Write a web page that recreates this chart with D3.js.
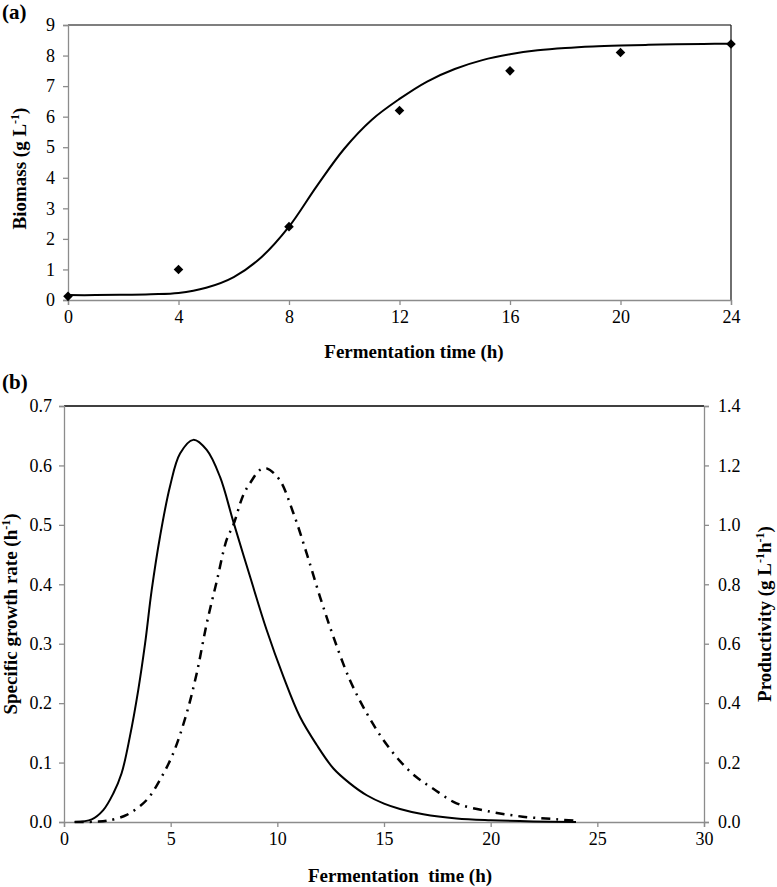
<!DOCTYPE html>
<html>
<head>
<meta charset="utf-8">
<script src="https://cdn.jsdelivr.net/npm/d3@7"></script>
<style>
  body { margin: 0; background: #fff; }
  svg { display: block; }
</style>
</head>
<body>
<svg id="chart" width="777" height="887" font-family="Liberation Serif"></svg>
<script>
// ---------- Panel (a): biomass ----------
const obsTime = [0, 4, 8, 12, 16, 20, 24];
const obsBiomass = [0.12, 1.0, 2.4, 6.2, 7.5, 8.1, 8.38];
const fitTime = [0, 1, 2, 3, 4, 5, 6, 7, 8, 9, 10, 11, 12, 13, 14, 15, 16, 17, 18, 19, 20, 21, 22, 23, 24];
const fitBiomass = [0.16, 0.16, 0.17, 0.19, 0.23, 0.4, 0.75, 1.4, 2.4, 3.72, 4.95, 5.9, 6.58, 7.15, 7.56, 7.85, 8.04, 8.17, 8.25, 8.3, 8.33, 8.35, 8.37, 8.38, 8.39];
const xTicksA = [0, 4, 8, 12, 16, 20, 24];
const yTicksA = [0, 1, 2, 3, 4, 5, 6, 7, 8, 9];

// ---------- Panel (b): specific growth rate & productivity ----------
const muTime = [0.5, 1.3, 1.84, 2.31, 2.7, 3.09, 3.48, 3.8, 4.11, 4.5, 4.97, 5.44, 6.06, 6.69, 7.31, 7.94, 8.72, 9.5, 10.28, 11.06, 11.84, 12.63, 13.4, 14.19, 15.0, 15.75, 16.84, 18.4, 20, 22, 24];
const muValue = [0, 0.0045, 0.02, 0.048, 0.082, 0.144, 0.222, 0.3, 0.39, 0.48, 0.565, 0.62, 0.643, 0.626, 0.581, 0.505, 0.413, 0.323, 0.245, 0.177, 0.13, 0.09, 0.065, 0.045, 0.031, 0.022, 0.013, 0.006, 0.003, 0.001, 0];
const prodTime = [0.5, 1.5, 2.0, 2.94, 3.875, 4.5, 5.125, 5.75, 6.22, 6.69, 7.16, 7.625, 7.94, 8.4, 8.72, 9.19, 9.5, 10.1, 10.75, 11.375, 12.0, 12.625, 13.4, 14.19, 14.97, 15.75, 16.5, 17.31, 18.4, 19.97, 21.5, 23.1, 24];
const prodValue = [0, 0.001, 0.004, 0.024, 0.074, 0.142, 0.232, 0.366, 0.5, 0.668, 0.81, 0.95, 1.0, 1.1, 1.14, 1.185, 1.19, 1.152, 1.04, 0.904, 0.758, 0.624, 0.478, 0.366, 0.276, 0.205, 0.152, 0.112, 0.063, 0.035, 0.018, 0.009, 0.004];
const xTicksB = [0, 5, 10, 15, 20, 25, 30];
const yTicksB = [0, 0.1, 0.2, 0.3, 0.4, 0.5, 0.6, 0.7];
const y2TicksB = [0, 0.2, 0.4, 0.6, 0.8, 1.0, 1.2, 1.4];

const FONT = '"Liberation Serif", "Times New Roman", serif';
const svg = d3.select("#chart");
const axisGray = "#8c8c8c";
const tickFont = 18;
const titleFont = 19;

function styleAxis(g) {
  g.attr("font-family", null).attr("font-size", null);
  g.selectAll("path.domain").attr("stroke", axisGray).attr("stroke-width", 1.3);
  g.selectAll(".tick line").attr("stroke", axisGray).attr("stroke-width", 1.3);
  g.selectAll(".tick text").style("font-family", FONT).style("font-size", tickFont + "px").attr("fill", "#000");
}
function title(x, y, rot) {
  const t = svg.append("text")
    .attr("transform", rot ? `translate(${x},${y}) rotate(-90)` : `translate(${x},${y})`)
    .attr("text-anchor", "middle")
    .style("font-family", FONT).style("font-size", titleFont + "px").style("font-weight", "bold");
  return t;
}

// ===== Panel (a) =====
const A = { left: 68, right: 731, top: 25, bottom: 300 };
const xA = d3.scaleLinear().domain([0, 24]).range([A.left, A.right]);
const yA = d3.scaleLinear().domain([0, 9]).range([A.bottom, A.top]);

svg.append("line").attr("x1", A.left).attr("x2", A.right).attr("y1", A.top).attr("y2", A.top)
  .attr("stroke", "#555").attr("stroke-width", 1.3);
svg.append("line").attr("x1", A.right).attr("x2", A.right).attr("y1", A.top).attr("y2", A.bottom)
  .attr("stroke", "#222").attr("stroke-width", 1.3);

const gxA = svg.append("g").attr("transform", `translate(0,${A.bottom})`)
  .call(d3.axisBottom(xA).tickValues(xTicksA).tickSizeOuter(0).tickSize(5).tickPadding(5));
styleAxis(gxA);
const gyA = svg.append("g").attr("transform", `translate(${A.left},0)`)
  .call(d3.axisLeft(yA).tickValues(yTicksA).tickSizeOuter(0).tickSize(5).tickPadding(8));
styleAxis(gyA);

const fitData = fitTime.map((t, i) => [t, fitBiomass[i]]);
svg.append("path").datum(fitData)
  .attr("fill", "none").attr("stroke", "#000").attr("stroke-width", 2)
  .attr("d", d3.line().x(d => xA(d[0])).y(d => yA(d[1])).curve(d3.curveCatmullRom.alpha(0.5)));

const obsData = obsTime.map((t, i) => [t, obsBiomass[i]]);
svg.append("g").selectAll("path").data(obsData).join("path")
  .attr("transform", d => `translate(${xA(d[0])},${yA(d[1])}) rotate(45)`)
  .attr("d", d3.symbol().type(d3.symbolSquare).size(46))
  .attr("fill", "#000");

title(414, 358, false).text("Fermentation time (h)");

const yTitleA = title(26, (A.top + A.bottom) / 2 + 6, true);
yTitleA.append("tspan").text("Biomass (g L");
yTitleA.append("tspan").attr("dy", -7).style("font-size", "12px").text("-1");
yTitleA.append("tspan").attr("dy", 7).text(")");

svg.append("text").attr("x", 2).attr("y", 19).style("font-family", FONT)
  .style("font-size", "21px").style("font-weight", "bold").text("(a)");

// ===== Panel (b) =====
const B = { left: 64, right: 704, top: 406, bottom: 822 };
const xB = d3.scaleLinear().domain([0, 30]).range([B.left, B.right]);
const yB = d3.scaleLinear().domain([0, 0.7]).range([B.bottom, B.top]);
const yB2 = d3.scaleLinear().domain([0, 1.4]).range([B.bottom, B.top]);

svg.append("line").attr("x1", B.left).attr("x2", B.right).attr("y1", B.top).attr("y2", B.top)
  .attr("stroke", "#000").attr("stroke-width", 1.5);

const gxB = svg.append("g").attr("transform", `translate(0,${B.bottom})`)
  .call(d3.axisBottom(xB).tickValues(xTicksB).tickSizeOuter(0).tickSize(5).tickPadding(5));
styleAxis(gxB);
const gyB = svg.append("g").attr("transform", `translate(${B.left},0)`)
  .call(d3.axisLeft(yB).tickValues(yTicksB).tickFormat(d3.format(".1f")).tickSizeOuter(0).tickSize(5).tickPadding(7));
styleAxis(gyB);
const gyB2 = svg.append("g").attr("transform", `translate(${B.right},0)`)
  .call(d3.axisRight(yB2).tickValues(y2TicksB).tickFormat(d3.format(".1f")).tickSizeOuter(0).tickSize(5).tickPadding(9));
styleAxis(gyB2);

const muData = muTime.map((t, i) => [t, muValue[i]]);
svg.append("path").datum(muData)
  .attr("fill", "none").attr("stroke", "#000").attr("stroke-width", 2)
  .attr("d", d3.line().x(d => xB(d[0])).y(d => yB(d[1])).curve(d3.curveCatmullRom.alpha(0.5)));

const prodData = prodTime.map((t, i) => [t, prodValue[i]]);
svg.append("path").datum(prodData)
  .attr("fill", "none").attr("stroke", "#000").attr("stroke-width", 2.5)
  .attr("stroke-dasharray", "9,6,2,6")
  .attr("d", d3.line().x(d => xB(d[0])).y(d => yB2(d[1])).curve(d3.curveCatmullRom.alpha(0.5)));

title(400, 882, false).style("white-space", "pre").text("Fermentation  time (h)");

const yTitleB = title(17, (B.top + B.bottom) / 2, true);
yTitleB.append("tspan").text("Specific growth rate (h");
yTitleB.append("tspan").attr("dy", -7).style("font-size", "12px").text("-1");
yTitleB.append("tspan").attr("dy", 7).text(")");

const yTitleB2 = title(771, (B.top + B.bottom) / 2, true);
yTitleB2.append("tspan").text("Productivity (g L");
yTitleB2.append("tspan").attr("dy", -7).style("font-size", "12px").text("-1");
yTitleB2.append("tspan").attr("dy", 7).text("h");
yTitleB2.append("tspan").attr("dy", -7).style("font-size", "12px").text("-1");
yTitleB2.append("tspan").attr("dy", 7).text(")");

svg.append("text").attr("x", 2).attr("y", 389).style("font-family", FONT)
  .style("font-size", "21px").style("font-weight", "bold").text("(b)");
</script>
</body>
</html>
